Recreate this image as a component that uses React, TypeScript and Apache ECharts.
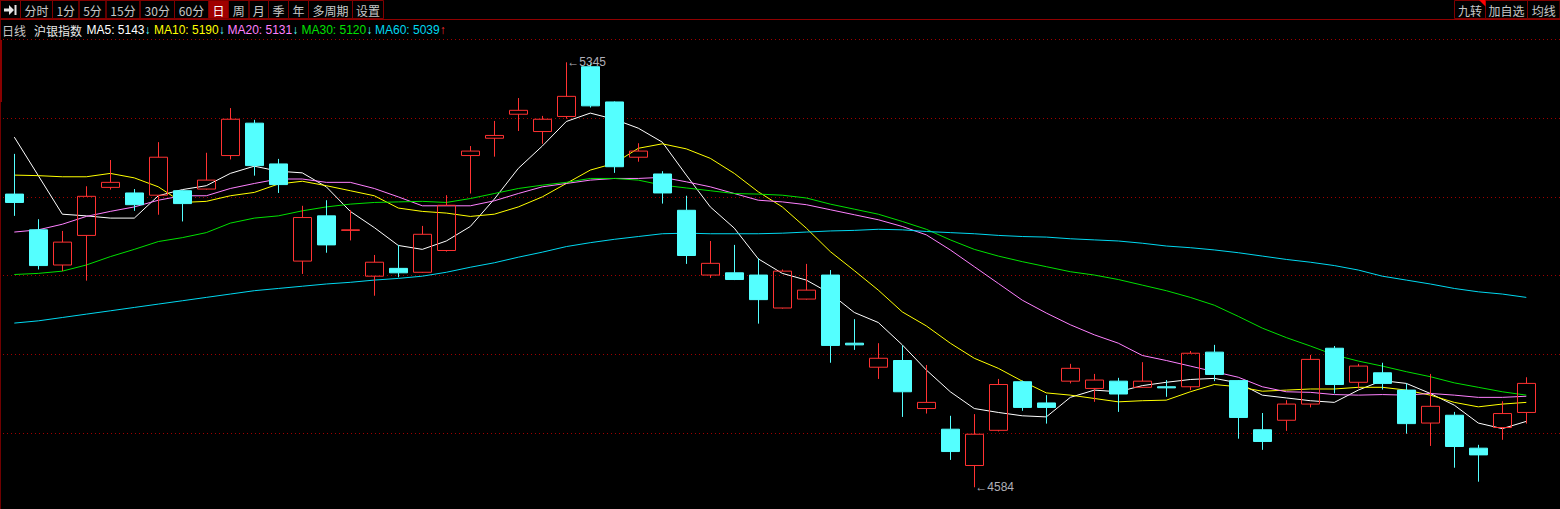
import React, { useEffect, useRef } from 'react';
import * as echarts from 'echarts';

// [open, close, lowest, highest]
const candles: [number, number, number, number][] = [
  [5109, 5094, 5070, 5181],
  [5045, 4981, 4974, 5064],
  [4982, 5023, 4971, 5043],
  [5035, 5105, 4954, 5123],
  [5121, 5130, 5117, 5170],
  [5111, 5090, 5079, 5118],
  [5107, 5175, 5072, 5202],
  [5115, 5092, 5060, 5116],
  [5118, 5134, 5117, 5183],
  [5178, 5243, 5171, 5263],
  [5236, 5160, 5142, 5242],
  [5163, 5126, 5111, 5172],
  [4989, 5067, 4966, 5088],
  [5070, 5018, 5004, 5098],
  [5044, 5045, 5026, 5080],
  [4962, 4987, 4927, 5000],
  [4976, 4968, 4960, 5018],
  [4969, 5037, 4968, 5052],
  [5008, 5089, 5006, 5107],
  [5178, 5186, 5110, 5195],
  [5209, 5214, 5176, 5240],
  [5252, 5259, 5222, 5281],
  [5221, 5243, 5199, 5249],
  [5248, 5284, 5244, 5345],
  [5337, 5267, 5264, 5343],
  [5274, 5158, 5147, 5275],
  [5175, 5186, 5167, 5200],
  [5145, 5111, 5092, 5150],
  [5080, 4999, 4984, 5106],
  [4964, 4985, 4959, 5025],
  [4968, 4956, 4955, 5018],
  [4964, 4920, 4877, 4994],
  [4905, 4971, 4904, 4974],
  [4921, 4937, 4920, 4984],
  [4964, 4838, 4807, 4973],
  [4842, 4839, 4830, 4885],
  [4799, 4815, 4778, 4842],
  [4811, 4755, 4710, 4838],
  [4725, 4736, 4716, 4803],
  [4688, 4648, 4633, 4712],
  [4623, 4679, 4584, 4715],
  [4686, 4768, 4684, 4778],
  [4773, 4727, 4721, 4775],
  [4735, 4727, 4698, 4749],
  [4774, 4797, 4770, 4805],
  [4761, 4776, 4737, 4787],
  [4774, 4751, 4719, 4780],
  [4763, 4774, 4762, 4808],
  [4764, 4762, 4746, 4776],
  [4764, 4824, 4758, 4828],
  [4826, 4786, 4774, 4839],
  [4775, 4709, 4671, 4776],
  [4687, 4666, 4651, 4717],
  [4704, 4733, 4685, 4740],
  [4733, 4813, 4727, 4821],
  [4833, 4768, 4752, 4837],
  [4772, 4801, 4761, 4805],
  [4789, 4770, 4759, 4807],
  [4758, 4698, 4680, 4770],
  [4699, 4729, 4658, 4787],
  [4713, 4657, 4619, 4719],
  [4654, 4642, 4594, 4660],
  [4691, 4716, 4669, 4738],
  [4718, 4770, 4698, 4781],
];

const ma5 = [5211, 5142, 5073, 5070, 5066, 5066, 5106, 5117, 5124, 5146, 5159, 5150, 5147, 5122, 5078, 5049, 5017, 5010, 5025, 5051, 5100, 5155, 5195, 5239, 5254, 5243, 5227, 5202, 5143, 5086, 5048, 4993, 4967, 4955, 4931, 4897, 4879, 4839, 4794, 4755, 4725, 4718, 4712, 4710, 4745, 4758, 4755, 4766, 4772, 4777, 4779, 4771, 4749, 4744, 4739, 4736, 4758, 4775, 4770, 4752, 4731, 4699, 4689, 4702];
const ma10 = [5143, 5142, 5140, 5140, 5146, 5138, 5122, 5094, 5096, 5106, 5112, 5127, 5132, 5124, 5115, 5106, 5084, 5078, 5075, 5069, 5073, 5086, 5104, 5128, 5152, 5164, 5191, 5199, 5190, 5173, 5146, 5113, 5086, 5048, 5006, 4972, 4937, 4898, 4873, 4842, 4815, 4797, 4774, 4753, 4749, 4743, 4737, 4739, 4740, 4755, 4768, 4764, 4756, 4758, 4760, 4760, 4763, 4763, 4758, 4749, 4736, 4728, 4733, 4736];
const ma20 = [5041, 5045, 5055, 5069, 5078, 5086, 5098, 5106, 5106, 5119, 5128, 5136, 5136, 5130, 5130, 5119, 5104, 5088, 5088, 5088, 5097, 5110, 5122, 5128, 5134, 5137, 5137, 5139, 5131, 5122, 5110, 5098, 5095, 5090, 5081, 5072, 5063, 5051, 5036, 5009, 4979, 4949, 4919, 4896, 4875, 4857, 4842, 4820, 4811, 4801, 4791, 4781, 4764, 4755, 4754, 4750, 4749, 4750, 4749, 4752, 4749, 4745, 4745, 4747];
const ma30 = [4965, 4967, 4971, 4982, 4997, 5010, 5024, 5031, 5040, 5057, 5066, 5070, 5079, 5086, 5091, 5094, 5095, 5096, 5094, 5101, 5110, 5119, 5125, 5130, 5137, 5137, 5134, 5125, 5120, 5115, 5110, 5109, 5107, 5102, 5091, 5082, 5073, 5060, 5046, 5027, 5010, 4998, 4988, 4979, 4970, 4964, 4956, 4946, 4936, 4924, 4910, 4890, 4869, 4852, 4837, 4821, 4810, 4801, 4791, 4782, 4771, 4763, 4755, 4749];
const ma60 = [4878, 4882, 4888, 4894, 4900, 4906, 4912, 4918, 4924, 4930, 4936, 4940, 4944, 4948, 4951, 4955, 4958, 4962, 4969, 4978, 4986, 4996, 5005, 5015, 5022, 5028, 5033, 5038, 5039, 5038, 5038, 5038, 5039, 5041, 5043, 5044, 5046, 5045, 5042, 5040, 5038, 5035, 5033, 5032, 5029, 5027, 5025, 5021, 5016, 5013, 5009, 5004, 4998, 4992, 4987, 4981, 4973, 4962, 4955, 4948, 4940, 4934, 4930, 4924];

const days = candles.map((_, i) => String(i + 1));

const toolbarLeft = ['分时', '1分', '5分', '15分', '30分', '60分', '日', '周', '月', '季', '年', '多周期', '设置'];
const toolbarRight = ['九转', '加自选', '均线'];
const maLegend = [
  { name: 'MA5', value: '5143', arrow: '↓', color: '#ffffff' },
  { name: 'MA10', value: '5190', arrow: '↓', color: '#ffff00' },
  { name: 'MA20', value: '5131', arrow: '↓', color: '#ff80ff' },
  { name: 'MA30', value: '5120', arrow: '↓', color: '#00e000' },
  { name: 'MA60', value: '5039', arrow: '↑', color: '#00d8f0' },
];

// layout (pixels)
const leftEdges = [20.5, 52.5, 79, 106, 140, 174.5, 208.5, 228.5, 249, 268.5, 288.5, 308.5, 352.5, 383.5];
const rightEdges = [1454.5, 1485.5, 1527.5, 1560];
const legendX = [86.5, 154, 227.5, 301.5, 375];

const FONT = '"Liberation Sans", Arial, "Noto Sans CJK SC", sans-serif';
const CJK = '"Noto Sans CJK SC", "Liberation Sans", sans-serif';

function buildGraphic() {
  const els: any[] = [];
  // left border
  els.push({ type: 'rect', shape: { x: 0, y: 0, width: 1, height: 509 }, style: { fill: '#700000' } });
  els.push({ type: 'rect', shape: { x: 0, y: 40, width: 2, height: 62 }, style: { fill: '#8a0000' } });
  // icon box
  els.push({ type: 'rect', shape: { x: 0.5, y: 0.5, width: 20, height: 18 }, style: { fill: 'none', stroke: '#800000', lineWidth: 1 } });
  els.push({ type: 'polygon', shape: { points: [[4, 8.5], [9, 8.5], [9, 5], [14, 10], [9, 15], [9, 11.5], [4, 11.5]] }, style: { fill: '#e6e6e6' } });
  els.push({ type: 'rect', shape: { x: 14.5, y: 5, width: 2, height: 10 }, style: { fill: '#e6e6e6' } });
  toolbarLeft.forEach((label, i) => {
    const x0 = leftEdges[i];
    const x1 = leftEdges[i + 1];
    const active = label === '日';
    els.push({ type: 'rect', shape: { x: x0, y: 0.5, width: x1 - x0, height: 18 }, style: { fill: active ? '#a00000' : 'none', stroke: '#800000', lineWidth: 1 } });
    els.push({ type: 'text', style: { text: label, x: (x0 + x1) / 2, y: 10, textAlign: 'center', textVerticalAlign: 'middle', align: 'center', verticalAlign: 'middle', fill: active ? '#ffffff' : '#c8c8c8', font: `12px ${CJK}` } });
  });
  toolbarRight.forEach((label, i) => {
    const x0 = rightEdges[i];
    const x1 = rightEdges[i + 1];
    els.push({ type: 'rect', shape: { x: x0, y: 0.5, width: x1 - x0, height: 18 }, style: { fill: 'none', stroke: '#800000', lineWidth: 1 } });
    els.push({ type: 'text', style: { text: label, x: (x0 + x1) / 2, y: 10, textAlign: 'center', textVerticalAlign: 'middle', align: 'center', verticalAlign: 'middle', fill: '#c8c8c8', font: `12px ${CJK}` } });
  });
  els.push({ type: 'polygon', shape: { points: [[1479, 0], [1485.5, 0], [1485.5, 6.5]] }, style: { fill: '#ff0000' } });
  // toolbar bottom line
  els.push({ type: 'rect', shape: { x: 0, y: 19, width: 1560, height: 1 }, style: { fill: '#900000' } });
  // info row
  els.push({ type: 'text', style: { text: '日线', x: 2, y: 30, textVerticalAlign: 'middle', verticalAlign: 'middle', fill: '#c8c8c8', font: `12px ${CJK}` } });
  els.push({ type: 'text', style: { text: '沪银指数', x: 34, y: 30, textVerticalAlign: 'middle', verticalAlign: 'middle', fill: '#e8e8e8', font: `12px ${CJK}` } });
  maLegend.forEach((m, i) => {
    els.push({
      type: 'text',
      style: {
        text: `{n|${m.name}: ${m.value}}{a|${m.arrow}}`,
        x: legendX[i], y: 30, textVerticalAlign: 'middle', verticalAlign: 'middle',
        font: `12px ${FONT}`,
        rich: {
          n: { fill: m.color, font: `12px ${FONT}` },
          a: { fill: m.arrow === '↑' ? '#ff3232' : '#54ffff', font: `12px ${FONT}` },
        },
      },
    });
  });
  return els;
}

function lineSeries(name: string, data: number[], color: string) {
  return {
    name, type: 'line', data, xAxisIndex: 0, yAxisIndex: 0,
    symbol: 'none', smooth: false, z: 2,
    lineStyle: { color, width: 1 },
    itemStyle: { color },
  };
}

export default function App() {
  const ref = useRef<HTMLDivElement>(null);
  useEffect(() => {
    document.body.style.margin = '0';
    document.body.style.background = '#000';
    const chart = echarts.init(ref.current!, null, { renderer: 'svg' });
    chart.setOption({
      animation: false,
      backgroundColor: '#000000',
      grid: [
        { left: 2.3, width: 1536, top: 39, height: 470 },
        { left: 3, right: 0, top: 39, height: 470 },
      ],
      xAxis: [
        { type: 'category', gridIndex: 0, data: days, boundaryGap: true, show: false },
        { type: 'value', gridIndex: 1, min: 0, max: 1, show: false },
      ],
      yAxis: [
        { type: 'value', gridIndex: 0, min: 4545.1, max: 5386.7, show: false, splitLine: { show: false } },
        {
          type: 'value', gridIndex: 1, min: 0, max: 5.957, interval: 1, inverse: true, show: true,
          axisLine: { show: false }, axisTick: { show: false }, axisLabel: { show: false },
          splitLine: { show: true, showMaxLine: false, lineStyle: { color: '#a00000', width: 1, type: [1, 3] } },
        },
      ],
      graphic: buildGraphic(),
      series: [
        lineSeries('MA5', ma5, '#ffffff'),
        lineSeries('MA10', ma10, '#ffff00'),
        lineSeries('MA20', ma20, '#ff80ff'),
        lineSeries('MA30', ma30, '#00e000'),
        lineSeries('MA60', ma60, '#00d8f0'),
        {
          type: 'candlestick', name: '沪银指数', data: candles, xAxisIndex: 0, yAxisIndex: 0,
          barWidth: 18, z: 3,
          itemStyle: {
            color: 'rgba(0,0,0,0)', color0: '#54ffff',
            borderColor: '#ff3232', borderColor0: '#54ffff', borderWidth: 1,
          },
          markPoint: {
            symbol: 'circle', symbolSize: 0,
            data: [
              { type: 'max', valueDim: 'highest', name: 'high' },
              { type: 'min', valueDim: 'lowest', name: 'low' },
            ],
            label: {
              show: true, position: 'right', distance: 1,
              formatter: (p: any) => '←' + p.value,
              color: '#b0b0b8', fontSize: 12, fontFamily: FONT,
            },
          },
        },
      ],
    });
    return () => chart.dispose();
  }, []);
  return <div ref={ref} style={{ width: 1560, height: 509 }} />;
}
